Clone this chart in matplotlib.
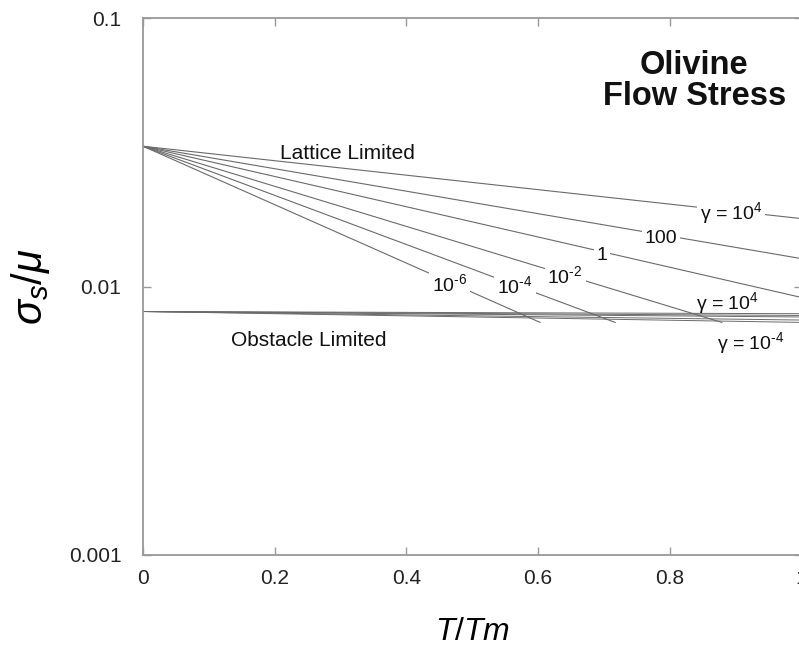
import numpy as np
import matplotlib
matplotlib.use("Agg")
from matplotlib import pyplot as plt

plt.rcParams['font.family'] = ['Liberation Sans', 'DejaVu Sans']
plt.rcParams['mathtext.fontset'] = 'custom'
plt.rcParams['mathtext.rm'] = 'Liberation Sans'
plt.rcParams['mathtext.it'] = 'Liberation Sans:italic'
plt.rcParams['mathtext.bf'] = 'Liberation Sans:bold'

# lattice limited curves, one per strain rate (all start at T/Tm = 0)
lattice_labels = [r"γ = 10$^{4}$", "100", "1", r"10$^{\text{-}2}$", r"10$^{\text{-}4}$", r"10$^{\text{-}6}$"]
lattice_y0 = 0.0333
lattice_end_x = [1.0, 1.0, 1.0, 0.879, 0.717, 0.603]
lattice_end_y = [0.0179, 0.0127, 0.0091, 0.00735, 0.00735, 0.00735]
lattice_label_x = [0.893, 0.787, 0.697, 0.641, 0.565, 0.466]

# obstacle limited curves (gamma = 1e4 ... 1e-4)
obstacle_y0 = 0.00807
obstacle_end_y = [0.00792, 0.0078, 0.0077, 0.0075, 0.00735]

xticks = [0, 0.2, 0.4, 0.6, 0.8, 1]
xticklabels = ["0", "0.2", "0.4", "0.6", "0.8", "1"]
yticks = [0.001, 0.01, 0.1]
yticklabels = ["0.001", "0.01", "0.1"]

line_col = '#6a6a6a'

fig = plt.figure(figsize=(7.99, 6.49), dpi=100)
ax = fig.add_axes([143 / 799, 94 / 649, 658.5 / 799, 537 / 649])

for xe, ye in zip(lattice_end_x, lattice_end_y):
    ax.plot([0, xe], [lattice_y0, ye], color=line_col, lw=0.8, zorder=2)

for ye in obstacle_end_y:
    ax.plot([0, 1], [obstacle_y0, ye], color=line_col, lw=0.7, zorder=2)

# labels sitting on the lattice lines (white box breaks the line)
for lab, lx, xe, ye in zip(lattice_labels, lattice_label_x, lattice_end_x, lattice_end_y):
    ly = 10 ** (np.log10(lattice_y0) + (np.log10(ye) - np.log10(lattice_y0)) * lx / xe)
    ax.annotate(lab, (lx, ly), xytext=(0, -6), textcoords='offset points',
                ha='center', va='baseline', fontsize=14, color='#111111', zorder=4,
                bbox=dict(boxstyle='square,pad=0.15', fc='white', ec='none'))

ax.text(0.887, 0.00865, r"γ = 10$^{4}$", ha='center', va='center', fontsize=14, color='#111111', zorder=4)
ax.text(0.923, 0.00618, r"γ = 10$^{\text{-}4}$", ha='center', va='center', fontsize=14, color='#111111', zorder=4)

ax.text(0.310, 0.0313, "Lattice Limited", ha='center', va='center', fontsize=15, color='#111111')
ax.text(0.251, 0.0063, "Obstacle Limited", ha='center', va='center', fontsize=15, color='#111111')

ax.text(0.837, 0.882, "Olivine\nFlow Stress", transform=ax.transAxes, ha='center', va='center',
        fontsize=23.5, fontweight='bold', linespacing=1.0, color='#111111')

ax.set_yscale('log')
ax.set_xlim(0, 1)
ax.set_ylim(0.001, 0.1)
ax.set_xticks(xticks)
ax.set_xticklabels(xticklabels)
ax.set_yticks(yticks)
ax.set_yticklabels(yticklabels)
ax.yaxis.set_minor_locator(matplotlib.ticker.NullLocator())
ax.tick_params(direction='in', length=6, width=1, color='#999999', labelsize=15,
               labelcolor='#222222', top=True, right=True)
ax.tick_params(axis='x', pad=10)
ax.tick_params(axis='y', pad=15.5)

for s in ax.spines.values():
    s.set_color('#999999')
    s.set_linewidth(1.3)

ax.set_xlabel(r"$T/Tm$", fontsize=23, labelpad=21)
ax.set_ylabel(r"$\sigma_s/\mu$", fontsize=30, labelpad=12)

fig.savefig("out.png", dpi=100)
